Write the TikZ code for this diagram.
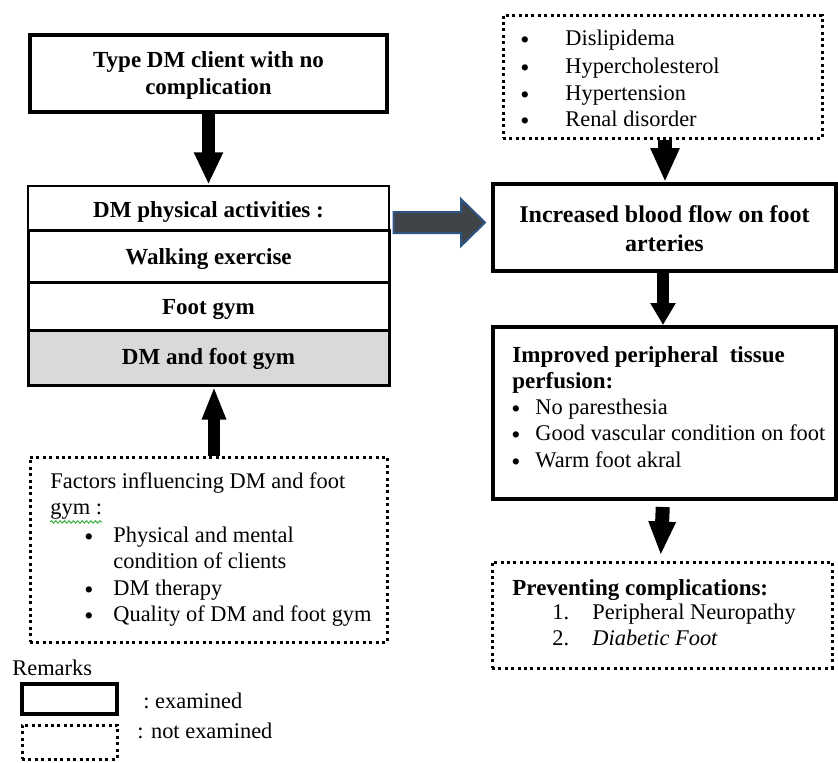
\documentclass[tikz,border=0pt]{standalone}
\usepackage{fontspec}
\setmainfont{Liberation Serif}
\usetikzlibrary{arrows.meta,calc,decorations.pathmorphing}
\newcommand\fs{\fontsize{11.2}{13.2}\selectfont}
\newcommand\fb{\fontsize{11.5}{13.2}\selectfont\bfseries}
\newcommand\bul{\raisebox{-1.5pt}{\fontsize{13}{13}\selectfont •}}
\definecolor{arrowfill}{HTML}{404348}
\definecolor{arrowedge}{HTML}{2F5585}
\definecolor{boxgray}{HTML}{D9D9D9}
\definecolor{squiggle}{HTML}{3CB043}
\begin{document}
\begin{tikzpicture}[x=0.5pt,y=-0.5pt,
 box/.style={draw, rectangle, inner sep=0pt},
 solidbox/.style={box, line width=2pt},
 thinbox/.style={box, line width=0.6pt},
 midbox/.style={box, line width=1.5pt},
 dotbox/.style={box, line width=1.5pt, dash pattern=on 1.5pt off 1.7pt},
 txt/.style={anchor=west, inner sep=0pt, font=\fs, text height=10pt, text depth=2.5pt},
 btxt/.style={txt, font=\fb},
 bultxt/.style={anchor=west, inner sep=0pt, font=\fs, text height=10pt, text depth=2.5pt},
 ctxt/.style={inner sep=0pt, font=\fb, align=center},
 blockarrow/.style={line width=#1, line cap=butt, draw=black},
]
\useasboundingbox (0,0) rectangle (838,762);

% ---------- left column ----------
\node[solidbox, minimum width=178.5pt, minimum height=38.5pt] (top) at (208.5,73.5) {};
\node[ctxt] (toptext) at (208.5,75.5) {Type DM client with no\\complication};

\node[thinbox, minimum width=180.5pt, minimum height=22pt] (hdr) at (208.5,208) {};
\node[ctxt] (hdrtext) at (208.5,212) {DM physical activities :};
\node[midbox, minimum width=180.5pt, minimum height=26pt] (walk) at (208.5,256) {};
\node[ctxt] (walktext) at (208.5,259) {Walking exercise};
\node[midbox, minimum width=180.5pt, minimum height=24pt] (foot) at (208.5,306) {};
\node[ctxt] (foottext) at (208.5,309) {Foot gym};
\node[midbox, fill=boxgray, minimum width=180.5pt, minimum height=27.5pt] (dmfg) at (208.5,357.5) {};
\node[ctxt] (dmfgtext) at (208.5,359) {DM and foot gym};

\node[dotbox, minimum width=178.5pt, minimum height=92.5pt] (factors) at (208.5,549.5) {};
\node[txt] (f1) at (50,481) {Factors influencing DM and foot};
\node[txt] (f2) at (50,507) {gym :};
\draw[squiggle, line width=0.5pt, decorate, decoration={snake, amplitude=0.6pt, segment length=2.2pt}]
  ($(f2.south west)+(0,2)$) -- ($(f2.south east)+(0,2)$);
\node[bultxt] (fb1) at (84,535) {\bul};
\node[txt] (fi1) at (113,535) {Physical and mental};
\node[txt] (fi1b) at (113,561) {condition of clients};
\node[bultxt] (fb2) at (84,588) {\bul};
\node[txt] (fi2) at (113,588) {DM therapy};
\node[bultxt] (fb3) at (84,614) {\bul};
\node[txt] (fi3) at (113,614) {Quality of DM and foot gym};

% legend
\node[txt] (remarks) at (12,668) {Remarks};
\node[solidbox, minimum width=47.5pt, minimum height=15pt] (leg1) at (69.5,699) {};
\node[txt] (leg1text) at (143,701) {:\ examined};
\node[dotbox, minimum width=47.5pt, minimum height=17pt] (leg2) at (69.5,742) {};
\node[txt] (leg2text) at (137,731) {: not examined};

% ---------- right column ----------
\node[dotbox, minimum width=159.5pt, minimum height=61.5pt] (risk) at (662.5,76.5) {};
\node[bultxt] (rb1) at (520,38) {\bul};
\node[txt] (ri1) at (565,38) {Dislipidema};
\node[bultxt] (rb2) at (520,66) {\bul};
\node[txt] (ri2) at (565,66) {Hypercholesterol};
\node[bultxt] (rb3) at (520,93) {\bul};
\node[txt] (ri3) at (565,93) {Hypertension};
\node[bultxt] (rb4) at (520,119) {\bul};
\node[txt] (ri4) at (565,119) {Renal disorder};

\node[solidbox, minimum width=171.5pt, minimum height=43.5pt] (blood) at (664.5,227.5) {};
\node[ctxt, font=\fontsize{12}{14.5}\selectfont\bfseries] (bloodtext) at (664.5,229) {Increased blood flow on foot\\arteries};

\node[solidbox, minimum width=171.5pt, minimum height=86pt] (perf) at (664.5,413) {};
\node[btxt] (p1) at (512,355) {Improved peripheral\ \ tissue};
\node[btxt] (p2) at (512,381) {perfusion:};
\node[bultxt] (pb1) at (511,407) {\bul};
\node[txt] (pi1) at (535,407) {No paresthesia};
\node[bultxt] (pb2) at (511,433) {\bul};
\node[txt] (pi2) at (535,433) {Good vascular condition on foot};
\node[bultxt] (pb3) at (511,460) {\bul};
\node[txt] (pi3) at (535,460) {Warm foot akral};

\node[dotbox, minimum width=170pt, minimum height=53pt] (prev) at (662,615) {};
\node[btxt] (v1) at (512,588) {Preventing complications:};
\node[txt] (vn1) at (552,612) {1.};
\node[txt] (vi1) at (592,612) {Peripheral Neuropathy};
\node[txt] (vn2) at (552,638) {2.};
\node[txt] (vi2) at (592,638) {\itshape Diabetic Foot};

% ---------- connectors ----------
\draw[blockarrow=6.5pt, -{Triangle[width=13.5pt,length=16pt]}] (top.south) -- ([yshift=0.5pt]hdr.north);
\draw[blockarrow=6pt, -{Triangle[width=11pt,length=16.5pt]}] ([xshift=2.75pt]factors.north) -- ([xshift=2.75pt]dmfg.south);
\draw[blockarrow=7pt, -{Triangle[width=13.5pt,length=17pt]}] ([xshift=1.25pt]risk.south) -- ([xshift=0.25pt]blood.north);
\draw[blockarrow=6pt, -{Triangle[width=12pt,length=11pt]}] ([xshift=-0.75pt]blood.south) -- ([xshift=-0.75pt]perf.north);
\draw[blockarrow=7pt, -{Triangle[width=12.5pt,length=17pt]}, shorten <=3pt, shorten >=2.5pt] ([xshift=-0.75pt]perf.south) -- ([xshift=-0.75pt]prev.north);

\coordinate (bA) at ($(hdr.east)+(4,14.5)$);
\coordinate (bB) at ($(blood.west)+(-6,-5)$);
\filldraw[fill=arrowfill, draw=arrowedge, line width=1pt, line join=miter]
  ($(bA)+(0,-10.5)$) -- ($(bB)+(-24,-10.5)$) -- ($(bB)+(-24,-23.5)$) -- (bB)
  -- ($(bB)+(-24,23.5)$) -- ($(bB)+(-24,10.5)$) -- ($(bA)+(0,10.5)$) -- cycle;
\end{tikzpicture}
\end{document}
